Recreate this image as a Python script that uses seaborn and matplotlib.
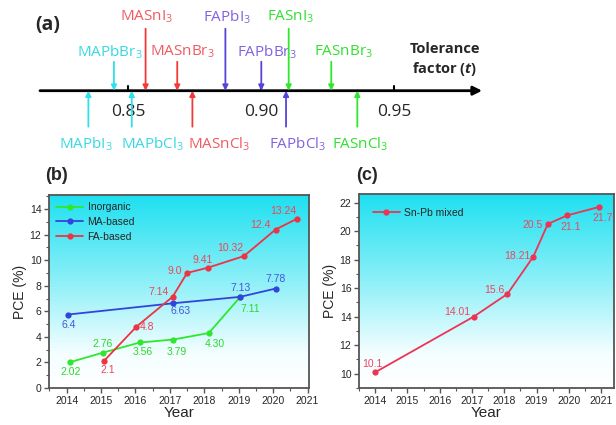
import numpy as np
import pandas as pd
import seaborn as sns
import matplotlib.pyplot as plt
from matplotlib.colors import LinearSegmentedColormap
from matplotlib.lines import Line2D
from matplotlib.ticker import AutoMinorLocator, MultipleLocator

# ---- panel (a): tolerance factors ----
tol_top_names = ["MAPbBr$_3$", "MASnI$_3$", "MASnBr$_3$", "FAPbI$_3$", "FAPbBr$_3$", "FASnI$_3$", "FASnBr$_3$"]
tol_top_values = [0.8446, 0.8565, 0.8684, 0.8865, 0.900, 0.9103, 0.9263]
tol_top_group = ["MAPb", "MASn", "MASn", "FAPb", "FAPb", "FASn", "FASn"]
tol_bot_names = ["MAPbI$_3$", "MAPbCl$_3$", "MASnCl$_3$", "FAPbCl$_3$", "FASnCl$_3$"]
tol_bot_values = [0.835, 0.8513, 0.8741, 0.9093, 0.9361]
tol_bot_group = ["MAPb", "MAPb", "MASn", "FAPb", "FASn"]
tol_ticks = [0.85, 0.90, 0.95]

# ---- panel (b): PCE by cation ----
inorg_year = [2014.1, 2015.05, 2016.13, 2017.1, 2018.13, 2019.04]
inorg_pce = [2.02, 2.76, 3.56, 3.79, 4.30, 7.11]
inorg_lab = ["2.02", "2.76", "3.56", "3.79", "4.30", "7.11"]
ma_year = [2014.05, 2017.1, 2019.04, 2020.07]
ma_pce = [5.75, 6.63, 7.13, 7.78]
ma_lab = ["6.4", "6.63", "7.13", "7.78"]
fa_year = [2015.08, 2016.03, 2017.08, 2017.5, 2018.1, 2019.15, 2020.07, 2020.69]
fa_pce = [2.1, 4.8, 7.14, 9.0, 9.41, 10.32, 12.4, 13.24]
fa_lab = ["2.1", "4.8", "7.14", "9.0", "9.41", "10.32", "12.4", "13.24"]

# ---- panel (c): Sn-Pb mixed ----
snpb_year = [2014.0, 2017.06, 2018.1, 2018.9, 2019.35, 2019.95, 2020.95]
snpb_pce = [10.1, 14.01, 15.6, 18.21, 20.5, 21.1, 21.7]
snpb_lab = ["10.1", "14.01", "15.6", "18.21", "20.5", "21.1", "21.7"]

year_ticks = list(range(2014, 2022))

sns.set_style("ticks")
plt.rcParams['font.family'] = ['Liberation Sans', 'DejaVu Sans']
plt.rcParams['mathtext.fontset'] = 'custom'
plt.rcParams['mathtext.rm'] = 'Open Sans'
plt.rcParams['mathtext.bfit'] = 'Open Sans:italic:bold'

W, H = 616, 425
fig = plt.figure(figsize=(W / 100, H / 100), dpi=100)


def px_axes(l, t, r, b):
    return fig.add_axes([l / W, 1 - b / H, (r - l) / W, (b - t) / H])


# group colours: (arrow, text)
group_col = {
    "MAPb": ("#30e0ea", "#3ad8e2"),
    "MASn": ("#f03a3a", "#f05a60"),
    "FAPb": ("#5544d8", "#8262e0"),
    "FASn": ("#2ee82e", "#30e030"),
}

# ---------------- panel (a) ----------------
ax_a = px_axes(0, 0, W, 160)
ax_a.set_xlim(0.80177, 0.80177 + W / 2660)
ax_a.set_ylim(-69.3, 90.7)
ax_a.axis("off")

ax_a.annotate("", xy=(0.983, 0), xytext=(0.8168, 0),
              arrowprops=dict(arrowstyle="-|>", lw=2, color="black", mutation_scale=13,
                              shrinkA=0, shrinkB=0))
for t in tol_ticks:
    ax_a.plot([t, t], [0, 5], color="black", lw=1.5)
    ax_a.text(t, -21, f"{t:.2f}", ha="center", va="center", fontsize=12.5, family="Open Sans")

top_start = [29, 62, 29, 62, 29, 62, 29]
top_row = [39, 74, 39, 74, 39, 74, 39]
top_dx = [-4, 1, 5, 2, 6, 2, 12]
for name, t, g, y0, yl, dx in zip(tol_top_names, tol_top_values, tol_top_group, top_start, top_row, top_dx):
    ac, tc = group_col[g]
    ax_a.annotate("", xy=(t, 0), xytext=(t, y0),
                  arrowprops=dict(arrowstyle="-|>", lw=1.3, color=ac, mutation_scale=8,
                                  shrinkA=0, shrinkB=0))
    ax_a.annotate(name, xy=(t, yl), xytext=(dx, 0), textcoords="offset pixels",
                  ha="center", va="center", fontsize=11, color=tc, family="Open Sans")

bot_dx = [-3, 21, 27, 12, 3]
for name, t, g, dx in zip(tol_bot_names, tol_bot_values, tol_bot_group, bot_dx):
    ac, tc = group_col[g]
    ax_a.annotate("", xy=(t, 0), xytext=(t, -36),
                  arrowprops=dict(arrowstyle="-|>", lw=1.3, color=ac, mutation_scale=8,
                                  shrinkA=0, shrinkB=0))
    ax_a.annotate(name, xy=(t, -53), xytext=(dx, 0), textcoords="offset pixels",
                  ha="center", va="center", fontsize=11, color=tc, family="Open Sans")

ax_a.text(0.969, 31, "Tolerance\nfactor ($\\mathbfit{t}$)", ha="center", va="center",
          fontsize=10.5, fontweight="bold", family="Open Sans", linespacing=1.3)
ax_a.text(0.8198, 66, "(a)", ha="center", va="center", fontsize=14, fontweight="bold",
          family="Open Sans")

# ---------------- shared styling for (b), (c) ----------------
grad_cmap = LinearSegmentedColormap.from_list(
    "bg", [(0.0, "#ffffff"), (0.18, "#f4feff"), (0.55, "#8ef0f8"), (1.0, "#1ee0f0")])


def style_axes(ax):
    grad = np.linspace(0, 1, 256).reshape(-1, 1)
    ax.imshow(grad, extent=[0, 1, 0, 1], transform=ax.transAxes, aspect="auto",
              cmap=grad_cmap, origin="lower", zorder=0)
    for s in ax.spines.values():
        s.set_color("#555555")
        s.set_linewidth(1.3)
        s.set_visible(True)
    ax.tick_params(which="major", length=3.5, width=1, color="#555555", labelsize=7.5, pad=2)
    ax.tick_params(which="minor", length=2, width=0.8, color="#555555")
    ax.set_xticks(year_ticks)
    ax.xaxis.set_minor_locator(AutoMinorLocator(2))
    ax.yaxis.set_major_locator(MultipleLocator(2))
    ax.yaxis.set_minor_locator(AutoMinorLocator(2))
    ax.set_xlabel("Year", fontsize=11, labelpad=0)
    ax.set_ylabel("PCE (%)", fontsize=10, labelpad=2)


def label_points(ax, xs, ys, labs, offsets, color):
    for x, y, s, (dx, dy) in zip(xs, ys, labs, offsets):
        ax.annotate(s, xy=(x, y), xytext=(dx, dy), textcoords="offset pixels",
                    ha="center", va="center", fontsize=7.5, color=color, zorder=5)


def make_legend(ax, names, palette, **kw):
    handles = [Line2D([], [], color=palette[n], marker="o", markersize=4.5,
                      markeredgewidth=0, lw=1.3) for n in names]
    ax.legend(handles, names, loc="upper left", frameon=False, fontsize=7.5,
              handlelength=2.6, handletextpad=0.4, **kw)


# ---------------- panel (b) ----------------
ax_b = px_axes(49, 195, 309, 388)
df_b = pd.DataFrame({
    "Year": inorg_year + ma_year + fa_year,
    "PCE": inorg_pce + ma_pce + fa_pce,
    "Type": ["Inorganic"] * len(inorg_year) + ["MA-based"] * len(ma_year) + ["FA-based"] * len(fa_year),
})
pal_b = {"Inorganic": "#2ee82e", "MA-based": "#3344dd", "FA-based": "#ee3344"}
sns.lineplot(data=df_b, x="Year", y="PCE", hue="Type", palette=pal_b, marker="o",
             markersize=4.5, markeredgewidth=0, linewidth=1.3, sort=False, ax=ax_b,
             zorder=3, legend=False)
style_axes(ax_b)
ax_b.set_xlim(2013.49, 2021.04)
ax_b.set_ylim(0, 15.1)

label_points(ax_b, inorg_year, inorg_pce, inorg_lab,
             [(1, -10), (0, 9), (3, -10), (3, -12), (6, -11), (10, -12)], "#2ad82a")
label_points(ax_b, ma_year, ma_pce, ma_lab,
             [(0, -10), (7, -8), (0, 9), (0, 10)], "#4455dd")
label_points(ax_b, fa_year, fa_pce, fa_lab,
             [(4, -9), (11, 0), (-14, 5), (-12, 2), (-5, 8), (-14, 8), (-15, 5), (-14, 8)], "#ee4455")
make_legend(ax_b, ["Inorganic", "MA-based", "FA-based"], pal_b,
            borderaxespad=0.3, labelspacing=0.45)

# ---------------- panel (c) ----------------
ax_c = px_axes(359, 194, 614, 388)
df_c = pd.DataFrame({"Year": snpb_year, "PCE": snpb_pce, "Type": ["Sn-Pb mixed"] * len(snpb_year)})
pal_c = {"Sn-Pb mixed": "#ee3355"}
sns.lineplot(data=df_c, x="Year", y="PCE", hue="Type", palette=pal_c,
             marker="o", markersize=4.5, markeredgewidth=0, linewidth=1.3, sort=False,
             ax=ax_c, zorder=3, legend=False)
style_axes(ax_c)
ax_c.set_xlim(2013.5, 2021.4)
ax_c.set_ylim(9, 22.6)
label_points(ax_c, snpb_year, snpb_pce, snpb_lab,
             [(-3, 8), (-17, 5), (-13, 4), (-16, 1), (-15, -1), (3, -12), (3, -11)], "#ee4460")
make_legend(ax_c, ["Sn-Pb mixed"], pal_c, borderaxespad=0.9)

fig.text(57 / W, 1 - 176 / H, "(b)", ha="center", va="center", fontsize=13, fontweight="bold")
fig.text(367 / W, 1 - 176 / H, "(c)", ha="center", va="center", fontsize=13, fontweight="bold")

fig.savefig("out.png", dpi=100)
